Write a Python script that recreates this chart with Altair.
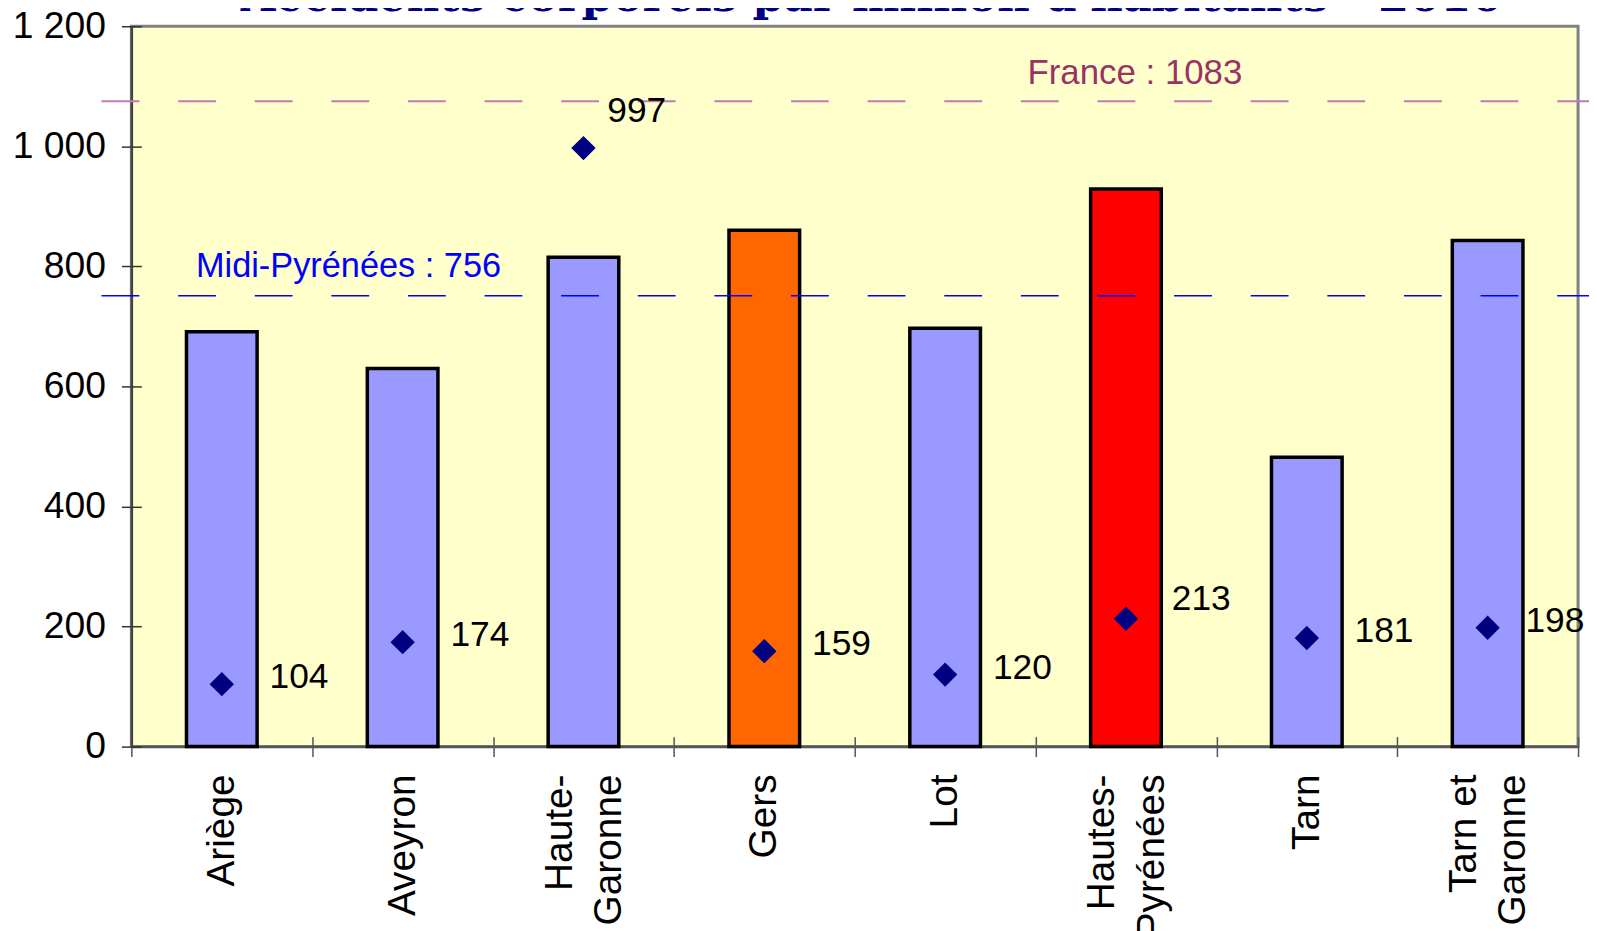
import altair as alt
import pandas as pd

# ---------------- data ----------------
categories = ["Ariège", "Aveyron", "Haute-\nGaronne", "Gers", "Lot",
              "Hautes-\nPyrénées", "Tarn", "Tarn et\nGaronne"]
accidents_per_million = [691, 630, 815, 860, 697, 929, 482, 843]
marker_values = [104, 174, 997, 159, 120, 213, 181, 198]

ref_names = ["France", "Midi-Pyrénées"]
ref_values = [1083, 756]
ref_line_levels = [1075, 751]

y_ticks = [0, 200, 400, 600, 800, 1000, 1200]
title_text = "Accidents corporels par million d'habitants - 2010"

# ---------------- styles ----------------
bar_colors = ["#9999FF", "#9999FF", "#9999FF", "#FF6600",
              "#9999FF", "#FF0000", "#9999FF", "#9999FF"]
FONT = "Liberation Sans"
W, H = 1454, 724

df = pd.DataFrame({"cat": categories, "acc": accidents_per_million, "val": marker_values})
df["lines"] = df["cat"].str.count("\n") + 1
ref = pd.DataFrame({"name": ref_names, "value": ref_values, "level": ref_line_levels})
ref["label"] = ref["name"] + " : " + ref["value"].astype(str)
title_df = pd.DataFrame({"t": [title_text]})

xs = alt.Scale(domain=categories, paddingInner=0, paddingOuter=0)
ys = alt.Scale(domain=[0, 1200], nice=False, zero=True)

x_axis = alt.Axis(
    title=None, labels=False, tickBand="extent", tickSize=10, tickColor="#555555",
    tickWidth=1.5, domainColor="#555555", domainWidth=2.5, grid=False,
)
y_axis = alt.Axis(
    title=None, values=y_ticks,
    labelExpr="replace(format(datum.value, ','), ',', ' ')",
    labelFont=FONT, labelFontSize=37.5, labelColor="black", labelPadding=16,
    labelFlush=False, tickSize=10, tickColor="#333333", tickWidth=1.5,
    domainColor="#444444", domainWidth=2.5, grid=False,
)

bars = alt.Chart(df).mark_bar(size=71, stroke="black", strokeWidth=3.5).encode(
    x=alt.X("cat:N", scale=xs, sort=categories, axis=x_axis),
    y=alt.Y("acc:Q", scale=ys, axis=y_axis),
    color=alt.Color("cat:N", scale=alt.Scale(domain=categories, range=bar_colors), legend=None),
)

# inner half of the crossing tick marks
pts = alt.Chart(df).mark_point(shape="diamond", filled=True, size=600,
                               color="#000080", opacity=1).encode(
    x=alt.X("cat:N", scale=xs, sort=categories,
            axis=alt.Axis(title=None, labels=False, domain=False, grid=False,
                          tickSize=10, offset=-10, tickBand="extent",
                          tickColor="#555555", tickWidth=1.5, orient="bottom")),
    y=alt.Y("val:Q", scale=ys,
            axis=alt.Axis(title=None, labels=False, domain=False, grid=False,
                          tickSize=10, offset=-10, values=y_ticks,
                          tickColor="#333333", tickWidth=1.5, orient="left")),
)

# category labels (rotated, one- and two-line)
xlab_layers = []
for n_lines, shift in [(1, 0), (2, -24)]:
    xlab_layers.append(
        alt.Chart(df).transform_filter(alt.datum.lines == n_lines).mark_text(
            angle=270, align="right", baseline="middle", lineBreak="\n",
            lineHeight=50, font=FONT, fontSize=39, color="black",
            dx=-28, dy=shift,
        ).encode(
            x=alt.X("cat:N", scale=xs, sort=categories, axis=None),
            y=alt.YDatum(0, type="quantitative", scale=ys, axis=None),
            text="cat:N",
        )
    )

special = {
    "Haute-\nGaronne": (24, -37),
    "Hautes-\nPyrénées": (46, -20),
    "Tarn et\nGaronne": (38, -7),
}
label_layers = [
    alt.Chart(df).transform_filter(
        ~alt.FieldOneOfPredicate(field="cat", oneOf=list(special.keys()))
    ).mark_text(align="left", baseline="middle", dx=48, dy=-7, font=FONT,
                fontSize=35.5, color="black").encode(
        x=alt.X("cat:N", scale=xs, sort=categories, axis=None),
        y=alt.Y("val:Q", scale=ys, axis=None),
        text="val:Q",
    )
]
for cat, (ddx, ddy) in special.items():
    label_layers.append(
        alt.Chart(df).transform_filter(
            alt.FieldEqualPredicate(field="cat", equal=cat)
        ).mark_text(align="left", baseline="middle", dx=ddx, dy=ddy, font=FONT,
                    fontSize=35.5, color="black").encode(
            x=alt.X("cat:N", scale=xs, sort=categories, axis=None),
            y=alt.Y("val:Q", scale=ys, axis=None),
            text="val:Q",
        )
    )

rule_styles = {"France": ("#C07AB8", 2), "Midi-Pyrénées": ("#0000FF", 1.5)}
rule_layers = []
for name, (col, sw) in rule_styles.items():
    rule_layers.append(
        alt.Chart(ref).transform_filter(alt.datum.name == name).mark_rule(
            color=col, strokeWidth=sw, strokeDash=[38, 39]
        ).encode(
            y=alt.Y("level:Q", scale=ys, axis=None),
            x=alt.value(-30), x2=alt.value(W + 30),
        )
    )

france_lab = alt.Chart(ref).transform_filter(alt.datum.name == "France").mark_text(
    align="center", baseline="middle", dx=9, dy=-28.5, font=FONT, fontSize=35,
    color="#993366").encode(
    x=alt.XDatum("Hautes-\nPyrénées", type="nominal", scale=xs, axis=None),
    y=alt.Y("level:Q", scale=ys, axis=None),
    text="label:N",
)
midi_lab = alt.Chart(ref).transform_filter(alt.datum.name == "Midi-Pyrénées").mark_text(
    align="left", baseline="middle", dx=-26, dy=-28.5, font=FONT, fontSize=34.5,
    color="#0000FF").encode(
    x=alt.XDatum("Ariège", type="nominal", scale=xs, axis=None),
    y=alt.Y("level:Q", scale=ys, axis=None),
    text="label:N",
)

title_mark = alt.Chart(title_df).mark_text(
    font="DejaVu Serif", fontSize=45, fontWeight="bold", color="#000080",
    align="center", baseline="alphabetic",
).encode(
    x=alt.value(W / 2 + 17), y=alt.value(-15), text="t:N",
)

chart = alt.layer(
    bars, *rule_layers, pts, *xlab_layers, *label_layers, france_lab, midi_lab, title_mark
).resolve_axis(
    x="independent", y="independent"
).properties(
    width=W, height=H,
    autosize=alt.AutoSizeParams(type="none"),
    padding={"left": 124, "top": 16, "right": 11, "bottom": 183},
    background="white",
).configure(
    font=FONT
).configure_view(
    fill="#FFFFCC", stroke="#808080", strokeWidth=3
)

chart.save("out.html", embed_options={"renderer": "svg", "actions": False})
